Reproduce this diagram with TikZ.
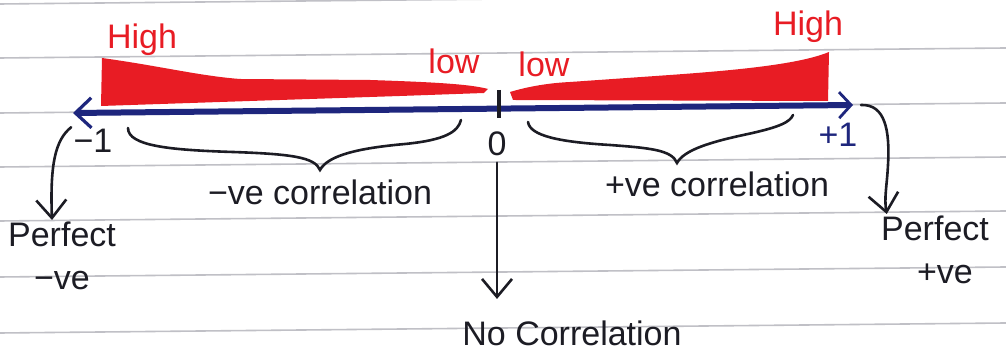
\documentclass[tikz,border=0pt]{standalone}
\usepackage{fontspec}
\setmainfont{Liberation Sans}
\usetikzlibrary{arrows.meta,positioning}
\definecolor{penred}{RGB}{232,28,36}
\definecolor{penblue}{RGB}{30,38,125}
\definecolor{penblack}{RGB}{28,28,36}
\definecolor{ruleline}{RGB}{192,192,198}
\tikzset{
  label text/.style={font=\fontsize{17}{21.5}\selectfont, text=penblack, inner sep=1pt},
  red text/.style={label text, text=penred},
  ink/.style={draw=penblack, line width=1.3pt, line cap=round},
  inkarrow/.style={ink, -{Straight Barb[length=9pt,width=15pt]}},
}
\begin{document}
\begin{tikzpicture}[x=0.5pt, y=-0.5pt]
  % paper and its ruled lines
  \fill[white] (0,0) rectangle (1006,356);
  \useasboundingbox (0,0) rectangle (1006,356);
  \foreach \ry in {4,58,113,167,221,277,333}
    \draw[ruleline, line width=0.8pt] (0,\ry) -- (1006,\ry-10);

  % red wedges (strength of correlation)
  \fill[penred] (102,58) .. controls (160,66) and (200,76) .. (240,79) -- (370,80)
    .. controls (430,82) and (470,84) .. (488,89) -- (484,93) -- (400,96) -- (250,101) -- (101,106) -- cycle;
  \fill[penred] (510,92) .. controls (530,86) and (550,83) .. (570,82) -- (670,75)
    .. controls (740,70) and (800,64) .. (829,52) -- (828,101) -- (513,100) -- cycle;

  % number line
  \coordinate (axL) at (73,113);
  \coordinate (axR) at (853,105);
  \draw[penblue, line width=3pt, {Straight Barb[length=8pt,width=15pt,line width=1.6pt]}-{Straight Barb[length=6pt,width=13pt,line width=1.4pt]}] (axL) -- (axR);
  \draw[penblack, line width=1.6pt] (499,90) -- (499,118);

  % labels on the line
  \node[red text, anchor=base] (highL) at (142,49) {High};
  \node[red text, anchor=base] (highR) at (808,36) {High};
  \node[red text, anchor=base] (lowL) at (454,74) {low};
  \node[red text, anchor=base] (lowR) at (544,77) {low};
  \node[label text, anchor=base] (minusone) at (93,153) {−1};
  \node[label text, anchor=base] (zero) at (497,156) {0};
  \node[label text, anchor=base, text=penblue] (plusone) at (838,147) {+1};

  % braces
  \coordinate (braceLa) at (128,128);
  \coordinate (braceLb) at (461,120);
  \coordinate (braceRa) at (528,122);
  \coordinate (braceRb) at (793,115);
  \draw[ink] (braceLa) .. controls (128,146) and (170,150) .. (233,152)
    .. controls (290,154) and (315,157) .. (320,170)
    .. controls (328,155) and (360,148) .. (405,144)
    .. controls (445,140) and (458,132) .. (braceLb);
  \draw[ink] (braceRa) .. controls (530,136) and (560,142) .. (610,145)
    .. controls (650,148) and (672,150) .. (677,163)
    .. controls (684,150) and (710,142) .. (748,134)
    .. controls (780,127) and (790,122) .. (braceRb);

  \node[label text, anchor=base] (negcorr) at (320,205) {−ve correlation};
  \node[label text, anchor=base] (poscorr) at (717,197) {+ve correlation};

  % end labels
  \node[label text, align=center, anchor=north] (perfneg) at (62,220) {Perfect\\−ve};
  \node[label text, align=center, anchor=north] (perfpos) at (935,214) {Perfect\\\hspace*{10pt}+ve};
  \node[label text, anchor=base] (nocorr) at (572,346) {No Correlation};

  % arrows to the end labels
  \draw[inkarrow] (minusone.north west) .. controls (55,140) and (50,165) .. ([xshift=-5pt]perfneg.north);
  \draw[inkarrow] ([xshift=4pt]axR) .. controls (885,104) and (890,130) .. (888,165)
    .. controls (887,185) and (884,198) .. ([xshift=4pt]perfpos.north west);
  \draw[inkarrow] ([yshift=-2pt]zero.south) -- ([yshift=10pt]zero.south |- nocorr.north);
\end{tikzpicture}
\end{document}
